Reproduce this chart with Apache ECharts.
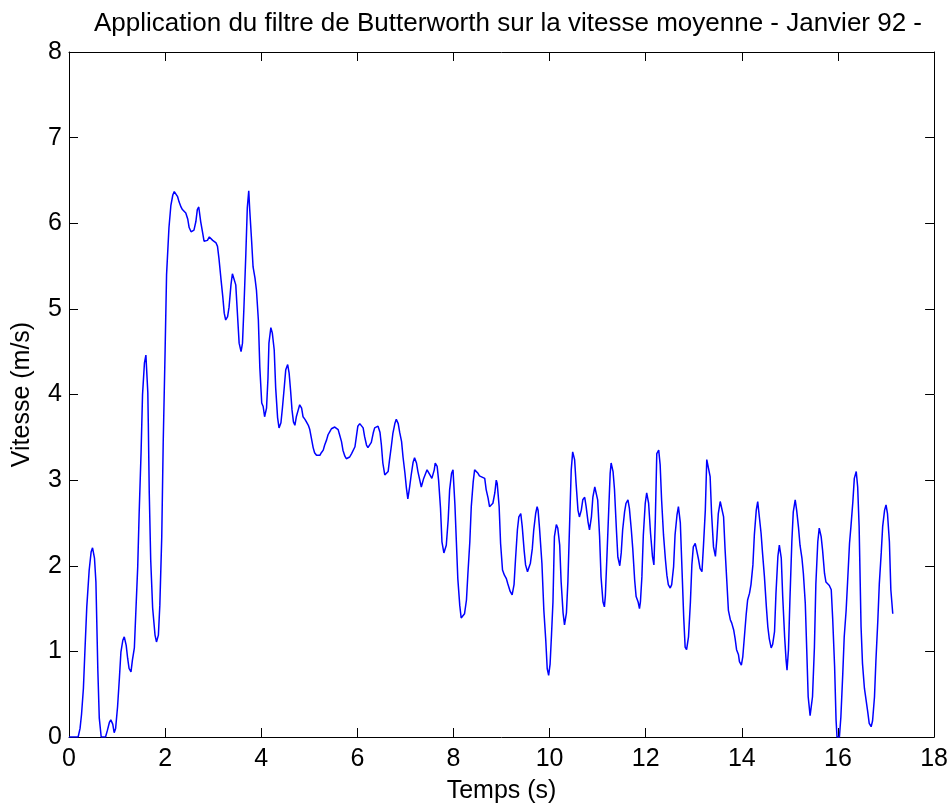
<!DOCTYPE html>
<html>
<head>
<meta charset="utf-8">
<script src="https://cdn.jsdelivr.net/npm/echarts@6/dist/echarts.min.js"></script>
<style>
  html, body { margin: 0; padding: 0; background: #fff; }
  #chart { width: 951px; height: 810px; }
</style>
</head>
<body>
<div id="chart"></div>
<script>
// Vitesse moyenne filtrée (Butterworth), échantillons relevés en fonction du temps
const temps = [
  0.00, 0.19, 0.23, 0.26, 0.30, 0.33, 0.37, 0.42, 0.46, 0.49, 0.53, 0.56, 0.60, 0.63, 0.67, 0.76,
  0.80, 0.84, 0.87, 0.91, 0.94, 0.97, 1.01, 1.05, 1.08, 1.12, 1.15, 1.19, 1.22, 1.25, 1.29, 1.32,
  1.36, 1.39, 1.43, 1.46, 1.50, 1.53, 1.57, 1.60, 1.62, 1.64, 1.65, 1.67, 1.70, 1.74, 1.79, 1.82,
  1.86, 1.89, 1.93, 1.96,
  2.00, 2.03, 2.08, 2.12, 2.16, 2.19, 2.22, 2.26, 2.29, 2.33, 2.36, 2.40, 2.43, 2.47, 2.50, 2.54,
  2.57, 2.60, 2.64, 2.67, 2.70, 2.72, 2.74, 2.78, 2.81, 2.85, 2.88, 2.92, 2.95, 2.99, 3.02, 3.06,
  3.09, 3.12, 3.16, 3.20, 3.23, 3.26, 3.30, 3.33, 3.37, 3.40, 3.44, 3.47, 3.51, 3.54, 3.58, 3.61,
  3.64, 3.68, 3.71, 3.74, 3.76, 3.80, 3.83, 3.87, 3.90, 3.94, 3.97, 4.01, 4.04, 4.07, 4.11, 4.14,
  4.16, 4.20, 4.23, 4.27, 4.30, 4.34, 4.37, 4.41, 4.44, 4.48, 4.51, 4.55, 4.58,
  4.61, 4.64, 4.67, 4.70, 4.73, 4.77, 4.80, 4.84, 4.87, 4.91, 4.94, 4.98, 5.01, 5.05, 5.08, 5.11,
  5.15, 5.18, 5.22, 5.25, 5.29, 5.32, 5.36, 5.39, 5.43, 5.46, 5.49, 5.53, 5.57, 5.60, 5.63, 5.67,
  5.70, 5.74, 5.77, 5.81, 5.84, 5.88, 5.91, 5.95, 5.98, 6.01, 6.05, 6.09, 6.12, 6.15, 6.19, 6.22,
  6.26, 6.29, 6.33, 6.36, 6.40, 6.43, 6.47, 6.50, 6.53, 6.57, 6.61, 6.64, 6.67, 6.71, 6.74, 6.78,
  6.81, 6.85, 6.88, 6.92, 6.95, 6.99, 7.02, 7.05, 7.09, 7.12, 7.16, 7.19, 7.23, 7.26,
  7.30, 7.33, 7.38, 7.45, 7.51, 7.55, 7.60, 7.62, 7.66, 7.69, 7.73, 7.76, 7.80, 7.82, 7.85, 7.89,
  7.92, 7.96, 7.99, 8.03, 8.06, 8.09, 8.13, 8.16, 8.20, 8.23, 8.27, 8.30, 8.34, 8.37, 8.41, 8.44,
  8.48, 8.51, 8.54, 8.58, 8.65, 8.68, 8.72, 8.75, 8.79, 8.82, 8.86, 8.89, 8.91, 8.95, 8.98, 9.02,
  9.06, 9.10, 9.13, 9.18, 9.22, 9.26, 9.29, 9.33, 9.36, 9.40, 9.43, 9.47, 9.50, 9.54, 9.57, 9.60,
  9.64, 9.67, 9.71, 9.74, 9.76, 9.79, 9.84, 9.88, 9.92, 9.95, 9.98, 10.01, 10.04, 10.07, 10.10, 10.14,
  10.17, 10.21, 10.24, 10.28, 10.31, 10.35, 10.38, 10.42, 10.45, 10.48, 10.52, 10.55, 10.59, 10.62, 10.66, 10.69,
  10.73, 10.76, 10.80, 10.83, 10.87, 10.90, 10.94, 10.97, 11.00, 11.04, 11.07, 11.11, 11.14, 11.16, 11.19, 11.23,
  11.26, 11.28, 11.32, 11.35, 11.39, 11.42, 11.46,
  11.49, 11.52, 11.56, 11.59, 11.63, 11.66, 11.70, 11.73, 11.77, 11.80, 11.84, 11.87, 11.89, 11.92, 11.95, 11.99,
  12.02, 12.06, 12.10, 12.14, 12.17, 12.20, 12.23, 12.27, 12.30, 12.33, 12.37, 12.41, 12.44, 12.47, 12.51, 12.54,
  12.58, 12.61, 12.65, 12.68, 12.72, 12.75, 12.79, 12.82, 12.85, 12.89, 12.93, 12.96, 12.99, 13.03, 13.06, 13.10,
  13.13, 13.17, 13.20, 13.24, 13.27, 13.31, 13.34, 13.37, 13.41, 13.45, 13.48, 13.51, 13.55, 13.58, 13.62, 13.65,
  13.69, 13.72, 13.76, 13.79, 13.83, 13.86, 13.89, 13.93,
  13.95, 13.99, 14.02, 14.05, 14.09, 14.12, 14.16, 14.19, 14.23, 14.26, 14.30, 14.33, 14.37, 14.40, 14.43, 14.47,
  14.51, 14.54, 14.57, 14.61, 14.64, 14.68, 14.71, 14.75, 14.78, 14.82, 14.85, 14.89, 14.92, 14.94, 14.97, 15.00,
  15.04, 15.07, 15.11, 15.14, 15.18, 15.21, 15.25, 15.28, 15.32, 15.35, 15.38, 15.42, 15.45, 15.47, 15.51, 15.54,
  15.58, 15.61, 15.65, 15.68, 15.72, 15.75, 15.79, 15.82, 15.86, 15.89, 15.93, 15.96, 15.98, 16.03, 16.06, 16.10,
  16.13, 16.17, 16.20, 16.24, 16.27, 16.31, 16.34, 16.38, 16.41, 16.44, 16.48, 16.51, 16.55, 16.58, 16.62, 16.65,
  16.69, 16.72, 16.76, 16.79, 16.83, 16.86, 16.90, 16.93, 16.97, 17.00, 17.03, 17.07, 17.10, 17.14
];

const vitesse = [
  0, 0, 0.10, 0.26, 0.57, 0.99, 1.52, 1.95, 2.16, 2.21, 2.09, 1.81, 0.78, 0.22, 0, 0,
  0.08, 0.17, 0.20, 0.15, 0.05, 0.10, 0.35, 0.70, 0.99, 1.13, 1.17, 1.07, 0.92, 0.80, 0.76, 0.90,
  1.04, 1.45, 1.99, 2.62, 3.33, 4.00, 4.37, 4.46, 4.48, 4.02, 3.67, 2.85, 2.07, 1.51, 1.19, 1.11,
  1.19, 1.54, 2.34, 3.43,
  4.52, 5.40, 5.95, 6.21, 6.33, 6.37, 6.35, 6.31, 6.25, 6.19, 6.16, 6.17, 6.12, 6.05, 5.95, 5.90,
  5.89, 5.92, 6.02, 6.16, 6.19, 6.20, 6.02, 5.89, 5.79, 5.77, 5.80, 5.84, 5.83, 5.80, 5.79, 5.77,
  5.73, 5.59, 5.36, 5.14, 4.95, 4.87, 4.91, 5.02, 5.28, 5.41, 5.42, 5.28, 4.89, 4.60, 4.50, 4.60,
  5.02, 5.65, 6.18, 6.38, 6.16, 5.79, 5.49, 5.36, 5.22, 4.87, 4.32, 3.90, 3.86, 3.74, 3.84, 4.19,
  4.60, 4.78, 4.72, 4.52, 4.08, 3.73, 3.61, 3.67, 3.84, 4.09, 4.29, 4.35, 4.25,
  4.05, 3.82, 3.68, 3.64, 3.74, 3.82, 3.88, 3.84, 3.74, 3.71, 3.68, 3.64, 3.59, 3.47, 3.38, 3.32,
  3.29, 3.29, 3.29, 3.32, 3.35, 3.41, 3.47, 3.53, 3.57, 3.60, 3.62, 3.62, 3.62, 3.59, 3.53, 3.45,
  3.35, 3.28, 3.25, 3.25, 3.27, 3.31, 3.33, 3.39, 3.51, 3.63, 3.66, 3.66, 3.61, 3.51, 3.41, 3.38,
  3.38, 3.44, 3.55, 3.61, 3.63, 3.63, 3.56, 3.41, 3.20, 3.06, 3.04, 3.10, 3.24, 3.41, 3.55, 3.66,
  3.71, 3.66, 3.56, 3.45, 3.27, 3.08, 2.91, 2.78, 2.93, 3.06, 3.21, 3.26, 3.20, 3.10,
  3.10, 2.92, 3.02, 3.12, 3.06, 3.02, 3.12, 3.20, 3.16, 3.00, 2.67, 2.28, 2.15, 2.13, 2.24, 2.54,
  2.89, 3.08, 3.12, 2.71, 2.28, 1.85, 1.54, 1.39, 1.37, 1.44, 1.60, 1.91, 2.28, 2.69, 2.98, 3.12,
  3.14, 3.08, 3.05, 3.04, 3.02, 2.89, 2.79, 2.69, 2.67, 2.73, 2.85, 3.00, 2.96, 2.69, 2.26, 1.95,
  1.89, 1.85, 1.79, 1.70, 1.66, 1.78, 2.07, 2.42, 2.57, 2.61, 2.46, 2.18, 2.01, 1.93, 1.95, 2.03,
  2.20, 2.42, 2.61, 2.69, 2.65, 2.44, 2.03, 1.48, 1.13, 0.80, 0.72, 0.85, 1.20, 1.58, 2.34, 2.48,
  2.44, 2.24, 1.81, 1.45, 1.31, 1.45, 1.81, 2.56, 3.12, 3.33, 3.24, 2.97, 2.65, 2.57, 2.65, 2.77,
  2.80, 2.69, 2.51, 2.42, 2.57, 2.80, 2.92, 2.91, 2.77, 2.34, 1.87, 1.58, 1.52, 1.65, 2.07, 2.65,
  3.08, 3.20, 3.10, 2.89, 2.42, 2.10, 2.00,
  2.15, 2.42, 2.63, 2.73, 2.77, 2.67, 2.42, 2.20, 1.83, 1.64, 1.58, 1.50, 1.58, 1.87, 2.36, 2.73,
  2.85, 2.73, 2.38, 2.11, 2.01, 2.55, 3.31, 3.35, 3.18, 2.77, 2.36, 2.07, 1.89, 1.78, 1.74, 1.78,
  1.99, 2.36, 2.59, 2.69, 2.50, 2.03, 1.40, 1.05, 1.02, 1.17, 1.58, 2.01, 2.22, 2.26, 2.18, 2.07,
  1.97, 1.93, 2.22, 2.65, 3.24, 3.24, 3.04, 2.61, 2.22, 2.11, 2.32, 2.61, 2.75, 2.73, 2.57, 2.20,
  1.79, 1.48, 1.37, 1.33, 1.25, 1.15, 1.02, 0.96,
  0.88, 0.84, 0.94, 1.15, 1.43, 1.60, 1.68, 1.78, 2.01, 2.36, 2.65, 2.75, 2.77, 2.38, 2.15, 1.87,
  1.52, 1.29, 1.15, 1.04, 1.08, 1.23, 1.68, 2.11, 2.24, 2.09, 1.64, 1.17, 0.90, 0.78, 1.02, 1.60,
  2.28, 2.63, 2.77, 2.65, 2.44, 2.24, 2.09, 1.91, 1.56, 1.02, 0.47, 0.25, 0.24, 0.47, 1.05, 1.79,
  2.28, 2.44, 2.34, 2.18, 1.91, 1.81, 1.79, 1.77, 1.72, 1.38, 0.82, 0.20, 0, 0, 0.23, 0.74,
  1.17, 1.48, 1.81, 2.26, 2.46, 2.75, 3.02, 3.10, 2.92, 2.46, 1.29, 0.86, 0.57, 0.45, 0.29, 0.16,
  0.12, 0.19, 0.47, 0.90, 1.37, 1.79, 2.15, 2.46, 2.65, 2.71, 2.61, 2.28, 1.72, 1.44
];

// Graduations des axes
const ticksTemps = [0, 2, 4, 6, 8, 10, 12, 14, 16, 18];
const ticksVitesse = [0, 1, 2, 3, 4, 5, 6, 7, 8];

const titre = 'Application du filtre de Butterworth sur la vitesse moyenne - Janvier 92 -';
const labelX = 'Temps (s)';
const labelY = 'Vitesse (m/s)';

const police = 'Liberation Sans, Arial, sans-serif';
const taille = 25;
const tailleTitre = 26;

const points = temps.map((t, i) => [t, vitesse[i]]);

const chart = echarts.init(document.getElementById('chart'), null, { renderer: 'canvas' });

// Cadre complet : axes doublés en haut et à droite, graduations vers l'intérieur
const axeX = (pos, labels) => ({
  type: 'value',
  position: pos,
  min: ticksTemps[0],
  max: ticksTemps[ticksTemps.length - 1],
  interval: ticksTemps[1] - ticksTemps[0],
  axisLine: { show: true, onZero: false, lineStyle: { color: '#000', width: 1 } },
  axisTick: { show: true, inside: true, length: 9, lineStyle: { color: '#000', width: 1 } },
  axisLabel: { show: labels, color: '#000', fontFamily: police, fontSize: taille, margin: 10 },
  splitLine: { show: false }
});

const axeY = (pos, labels) => ({
  type: 'value',
  position: pos,
  min: ticksVitesse[0],
  max: ticksVitesse[ticksVitesse.length - 1],
  interval: ticksVitesse[1] - ticksVitesse[0],
  axisLine: { show: true, onZero: false, lineStyle: { color: '#000', width: 1 } },
  axisTick: { show: true, inside: true, length: 9, lineStyle: { color: '#000', width: 1 } },
  axisLabel: { show: labels, color: '#000', fontFamily: police, fontSize: taille, margin: 7 },
  splitLine: { show: false }
});

const xBas = axeX('bottom', true);
xBas.name = labelX;
xBas.nameLocation = 'middle';
xBas.nameGap = 42;
xBas.nameTextStyle = { color: '#000', fontFamily: police, fontSize: taille };

const yGauche = axeY('left', true);
yGauche.name = labelY;
yGauche.nameLocation = 'middle';
yGauche.nameGap = 34;
yGauche.nameRotate = 90;
yGauche.nameTextStyle = { color: '#000', fontFamily: police, fontSize: taille };

chart.setOption({
  animation: false,
  backgroundColor: '#fff',
  title: {
    text: titre,
    left: 503,
    top: 6,
    textAlign: 'center',
    textStyle: { color: '#000', fontFamily: police, fontSize: tailleTitre, fontWeight: 'normal' }
  },
  grid: { left: 69, right: 16, top: 52, bottom: 73, containLabel: false },
  xAxis: [xBas, axeX('top', false)],
  yAxis: [yGauche, axeY('right', false)],
  series: [{
    type: 'line',
    xAxisIndex: 0,
    yAxisIndex: 0,
    data: points,
    showSymbol: false,
    symbol: 'none',
    lineStyle: { color: '#0000ff', width: 1.5 },
    z: 3
  }]
});
</script>
</body>
</html>
